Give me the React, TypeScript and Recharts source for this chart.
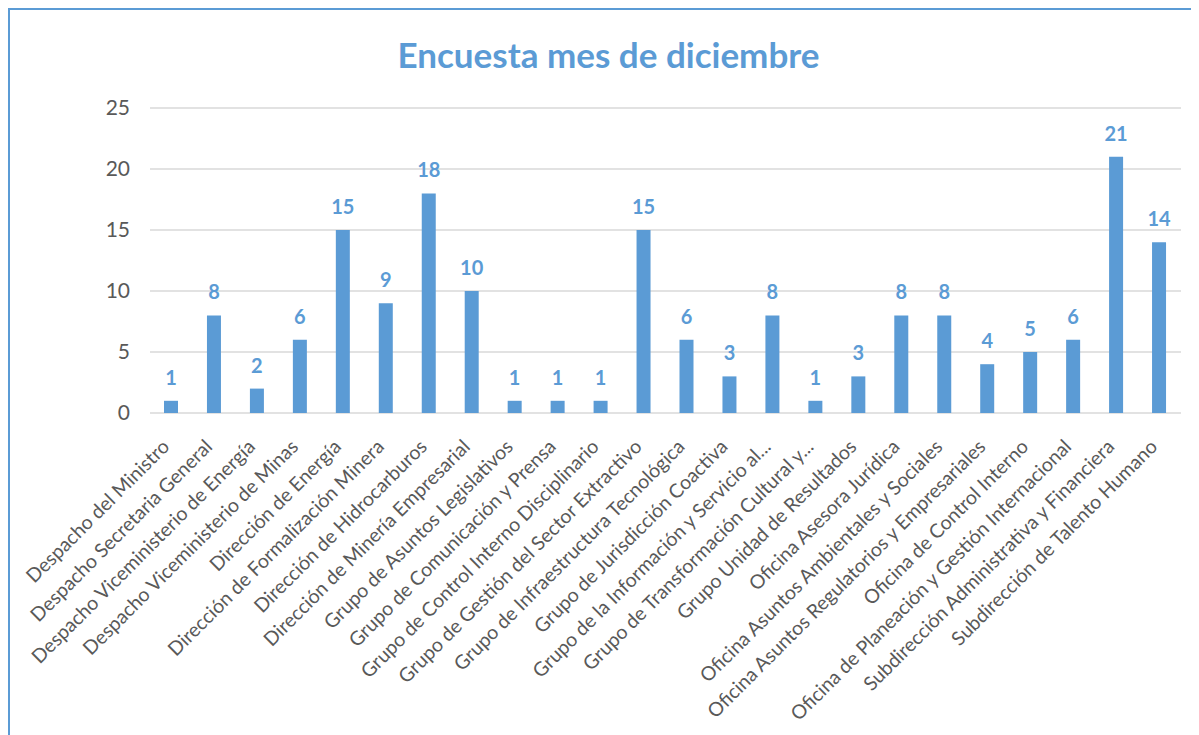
import React from 'react';
import { BarChart, Bar, XAxis, YAxis, CartesianGrid, LabelList } from 'recharts';

const areas = [
  'Despacho del Ministro',
  'Despacho Secretaria General',
  'Despacho Viceministerio de Energía',
  'Despacho Viceministerio de Minas',
  'Dirección de Energía',
  'Dirección de Formalización Minera',
  'Dirección de Hidrocarburos',
  'Dirección de Minería Empresarial',
  'Grupo de Asuntos Legislativos',
  'Grupo de Comunicación y Prensa',
  'Grupo de Control Interno Disciplinario',
  'Grupo de Gestión del Sector Extractivo',
  'Grupo de Infraestructura Tecnológica',
  'Grupo de Jurisdicción Coactiva',
  'Grupo de la Información y Servicio al...',
  'Grupo de Transformación Cultural y...',
  'Grupo Unidad de Resultados',
  'Oficina Asesora Jurídica',
  'Oficina Asuntos Ambientales y Sociales',
  'Oficina Asuntos Regulatorios y Empresariales',
  'Oficina de Control Interno',
  'Oficina de Planeación y Gestión Internacional',
  'Subdirección Administrativa y Financiera',
  'Subdirección de Talento Humano',
];

const respuestas = [1, 8, 2, 6, 15, 9, 18, 10, 1, 1, 1, 15, 6, 3, 8, 1, 3, 8, 8, 4, 5, 6, 21, 14];

const yTicks = [0, 5, 10, 15, 20, 25];

const data = areas.map((area, i) => ({ area, total: respuestas[i] }));

const FONT = 'Lato, "Open Sans", sans-serif';
const BLUE = '#5B9BD5';

function AreaTick({ x, y, payload }: any) {
  const ax = x - 1;
  const ay = y + 27;
  return (
    <text
      x={ax}
      y={ay}
      transform={`rotate(-45, ${ax}, ${ay})`}
      textAnchor="end"
      fill="#595959"
      fontSize={19.5}
      fontFamily={FONT}
    >
      {payload.value}
    </text>
  );
}

export default function App() {
  return (
    <div
      style={{
        position: 'relative',
        width: 1183,
        height: 740,
        border: `2px solid ${BLUE}`,
        background: '#fff',
      }}
    >
      <div
        style={{
          position: 'absolute',
          left: 0,
          right: 0,
          top: 23,
          textAlign: 'center',
          fontFamily: FONT,
          fontWeight: 700,
          fontSize: 35,
          color: BLUE,
          paddingLeft: 14,
        }}
      >
        Encuesta mes de diciembre
      </div>
      <BarChart
        width={1183}
        height={725}
        data={data}
        margin={{ top: 98, right: 12, left: 0, bottom: 0 }}
      >
        <CartesianGrid vertical={false} stroke="#D9D9D9" strokeWidth={1.5} />
        <XAxis
          dataKey="area"
          interval={0}
          height={322}
          tickLine={false}
          axisLine={false}
          tick={<AreaTick />}
        />
        <YAxis
          domain={[0, 25]}
          ticks={yTicks}
          width={140}
          tickLine={false}
          axisLine={false}
          tickMargin={14}
          tick={{ fontSize: 21, fill: '#595959', fontFamily: FONT }}
        />
        <Bar dataKey="total" fill={BLUE} barSize={14} isAnimationActive={false}>
          <LabelList
            dataKey="total"
            position="top"
            offset={16}
            fill={BLUE}
            fontSize={20}
            fontWeight={700}
            fontFamily={FONT}
          />
        </Bar>
      </BarChart>
    </div>
  );
}
